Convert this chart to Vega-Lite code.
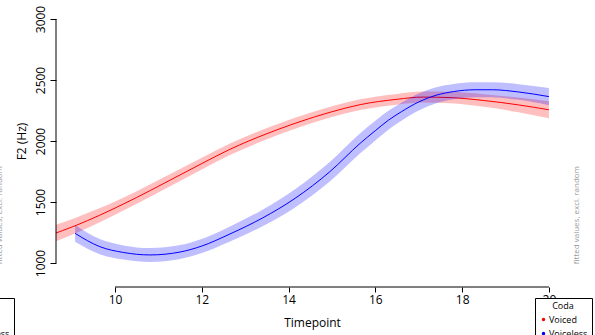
{
  "$schema": "https://vega.github.io/schema/vega-lite/v6.json",
  "width": 512,
  "height": 278,
  "autosize": {"type": "none"},
  "padding": {"left": 56, "top": 9, "right": 27, "bottom": 48},
  "background": "#ffffff",
  "config": {
    "font": "Open Sans",
    "view": {"stroke": null},
    "axis": {"grid": false, "domain": false, "tickColor": "#000000", "labelColor": "#000000", "titleColor": "#000000", "labelFontSize": 12, "titleFontSize": 12, "titleFontWeight": "normal", "tickWidth": 1, "labelFont": "Open Sans", "titleFont": "Open Sans"}
  },
  "data": {"values": [
    {"Coda": "Voiced", "t": 8.5, "fit": 1228, "lo": 1158, "hi": 1298},
    {"Coda": "Voiced", "t": 9.08, "fit": 1305, "lo": 1241, "hi": 1369},
    {"Coda": "Voiced", "t": 9.65, "fit": 1392, "lo": 1334, "hi": 1450},
    {"Coda": "Voiced", "t": 10.0, "fit": 1450, "lo": 1395, "hi": 1505},
    {"Coda": "Voiced", "t": 10.5, "fit": 1537, "lo": 1485, "hi": 1589},
    {"Coda": "Voiced", "t": 11.15, "fit": 1657, "lo": 1607, "hi": 1707},
    {"Coda": "Voiced", "t": 12.0, "fit": 1815, "lo": 1767, "hi": 1863},
    {"Coda": "Voiced", "t": 12.65, "fit": 1932, "lo": 1885, "hi": 1979},
    {"Coda": "Voiced", "t": 13.5, "fit": 2060, "lo": 2014, "hi": 2106},
    {"Coda": "Voiced", "t": 14.15, "fit": 2145, "lo": 2100, "hi": 2190},
    {"Coda": "Voiced", "t": 15.0, "fit": 2240, "lo": 2196, "hi": 2284},
    {"Coda": "Voiced", "t": 15.65, "fit": 2298, "lo": 2254, "hi": 2342},
    {"Coda": "Voiced", "t": 16.5, "fit": 2342, "lo": 2298, "hi": 2386},
    {"Coda": "Voiced", "t": 17.1, "fit": 2360, "lo": 2315, "hi": 2405},
    {"Coda": "Voiced", "t": 17.72, "fit": 2356, "lo": 2309, "hi": 2403},
    {"Coda": "Voiced", "t": 18.5, "fit": 2332, "lo": 2280, "hi": 2384},
    {"Coda": "Voiced", "t": 19.3, "fit": 2296, "lo": 2236, "hi": 2356},
    {"Coda": "Voiced", "t": 20.0, "fit": 2256, "lo": 2186, "hi": 2326},
    {"Coda": "Voiceless", "t": 9.08, "fit": 1243, "lo": 1175, "hi": 1311},
    {"Coda": "Voiceless", "t": 9.65, "fit": 1134, "lo": 1072, "hi": 1196},
    {"Coda": "Voiceless", "t": 10.2, "fit": 1086, "lo": 1028, "hi": 1144},
    {"Coda": "Voiceless", "t": 10.8, "fit": 1066, "lo": 1009, "hi": 1123},
    {"Coda": "Voiceless", "t": 11.5, "fit": 1090, "lo": 1033, "hi": 1147},
    {"Coda": "Voiceless", "t": 12.0, "fit": 1139, "lo": 1081, "hi": 1197},
    {"Coda": "Voiceless", "t": 12.65, "fit": 1238, "lo": 1176, "hi": 1300},
    {"Coda": "Voiceless", "t": 13.4, "fit": 1369, "lo": 1301, "hi": 1437},
    {"Coda": "Voiceless", "t": 14.15, "fit": 1530, "lo": 1455, "hi": 1605},
    {"Coda": "Voiceless", "t": 14.95, "fit": 1748, "lo": 1668, "hi": 1828},
    {"Coda": "Voiceless", "t": 15.65, "fit": 1981, "lo": 1899, "hi": 2063},
    {"Coda": "Voiceless", "t": 16.0, "fit": 2085, "lo": 2005, "hi": 2165},
    {"Coda": "Voiceless", "t": 16.3, "fit": 2170, "lo": 2093, "hi": 2247},
    {"Coda": "Voiceless", "t": 16.6, "fit": 2240, "lo": 2166, "hi": 2314},
    {"Coda": "Voiceless", "t": 17.0, "fit": 2320, "lo": 2250, "hi": 2390},
    {"Coda": "Voiceless", "t": 17.4, "fit": 2375, "lo": 2309, "hi": 2441},
    {"Coda": "Voiceless", "t": 17.8, "fit": 2405, "lo": 2342, "hi": 2468},
    {"Coda": "Voiceless", "t": 18.3, "fit": 2420, "lo": 2358, "hi": 2482},
    {"Coda": "Voiceless", "t": 18.7, "fit": 2420, "lo": 2358, "hi": 2482},
    {"Coda": "Voiceless", "t": 19.3, "fit": 2402, "lo": 2338, "hi": 2466},
    {"Coda": "Voiceless", "t": 20.0, "fit": 2364, "lo": 2294, "hi": 2434}
  ]},
  "layer": [
    {
      "transform": [{"filter": "datum.Coda === 'Voiced'"}],
      "mark": {"type": "area", "opacity": 0.25, "clip": true, "interpolate": "monotone"},
      "encoding": {
        "x": {"field": "t", "type": "quantitative", "scale": {"domain": [8.64, 20.44], "nice": false, "zero": false}, "title": "Timepoint",
              "axis": {"values": [10, 12, 14, 16, 18, 20], "format": "d", "tickSize": 5, "labelPadding": 2, "titleY": 35, "titleBaseline": "middle"}},
        "y": {"field": "lo", "type": "quantitative", "scale": {"domain": [803.3, 3082], "nice": false, "zero": false}, "title": "F2 (Hz)",
              "axis": {"values": [1000, 1500, 2000, 2500, 3000], "format": "d", "tickSize": 6, "labelAngle": 270, "labelAlign": "center", "labelBaseline": "bottom", "labelPadding": 3, "titleX": -35, "titleY": 132, "titleAngle": 270, "titleAlign": "center", "titleBaseline": "middle"}},
        "y2": {"field": "hi"},
        "fill": {"field": "Coda", "type": "nominal", "scale": {"domain": ["Voiceless", "Voiced"], "range": ["#0000ff", "#ff0000"]},
                 "legend": {"values": ["Voiced", "Voiceless"], "orient": "none", "legendX": -99, "legendY": 289, "title": "Coda", "titleAnchor": "middle", "titleFontSize": 9, "titleFontWeight": "normal", "titleColor": "#000000", "labelFontSize": 9, "labelColor": "#000000", "symbolType": "circle", "symbolSize": 12, "symbolStrokeWidth": 0, "strokeColor": "#000000", "fillColor": "#ffffff", "padding": 4, "rowPadding": 4, "titlePadding": 4, "labelOffset": 1,
                            "encode": {"symbols": {"update": {"fill": {"scale": "fill", "field": "value"}, "opacity": {"value": 1}}}}}}
      }
    },
    {
      "transform": [{"filter": "datum.Coda === 'Voiced'"}],
      "mark": {"type": "line", "strokeWidth": 1, "clip": true, "interpolate": "monotone"},
      "encoding": {
        "x": {"field": "t", "type": "quantitative", "scale": {"domain": [8.64, 20.44], "nice": false, "zero": false}, "title": "Timepoint"},
        "y": {"field": "fit", "type": "quantitative", "scale": {"domain": [803.3, 3082], "nice": false, "zero": false}, "title": "F2 (Hz)"},
        "stroke": {"field": "Coda", "type": "nominal", "scale": {"domain": ["Voiced", "Voiceless"], "range": ["#ff0000", "#0000ff"]},
                   "legend": {"orient": "none", "legendX": 479, "legendY": 289, "title": "Coda", "titleAnchor": "middle", "titleFontSize": 9, "titleFontWeight": "normal", "titleColor": "#000000", "labelFontSize": 9, "labelColor": "#000000", "symbolType": "circle", "symbolSize": 12, "symbolStrokeWidth": 0, "strokeColor": "#000000", "fillColor": "#ffffff", "padding": 4, "rowPadding": 4, "titlePadding": 4, "labelOffset": 1,
                              "encode": {"symbols": {"update": {"fill": {"scale": "stroke", "field": "value"}, "opacity": {"value": 1}}}}}}
      }
    },
    {
      "transform": [{"filter": "datum.Coda === 'Voiceless'"}],
      "mark": {"type": "area", "opacity": 0.25, "clip": true, "interpolate": "monotone"},
      "encoding": {
        "x": {"field": "t", "type": "quantitative", "scale": {"domain": [8.64, 20.44], "nice": false, "zero": false}, "title": "Timepoint"},
        "y": {"field": "lo", "type": "quantitative", "scale": {"domain": [803.3, 3082], "nice": false, "zero": false}, "title": "F2 (Hz)"},
        "y2": {"field": "hi"},
        "fill": {"field": "Coda", "type": "nominal", "scale": {"domain": ["Voiceless", "Voiced"], "range": ["#0000ff", "#ff0000"]}}
      }
    },
    {
      "transform": [{"filter": "datum.Coda === 'Voiceless'"}],
      "mark": {"type": "line", "strokeWidth": 1, "clip": true, "interpolate": "monotone"},
      "encoding": {
        "x": {"field": "t", "type": "quantitative", "scale": {"domain": [8.64, 20.44], "nice": false, "zero": false}, "title": "Timepoint"},
        "y": {"field": "fit", "type": "quantitative", "scale": {"domain": [803.3, 3082], "nice": false, "zero": false}, "title": "F2 (Hz)"},
        "stroke": {"field": "Coda", "type": "nominal", "scale": {"domain": ["Voiced", "Voiceless"], "range": ["#ff0000", "#0000ff"]}}
      }
    },
    {
      "data": {"values": [{}]},
      "mark": {"type": "rule", "color": "#000000", "strokeWidth": 1},
      "encoding": {
        "x": {"datum": 8.64, "type": "quantitative", "scale": {"domain": [8.64, 20.44], "nice": false, "zero": false}, "title": "Timepoint"},
        "y": {"datum": 1000, "type": "quantitative", "scale": {"domain": [803.3, 3082], "nice": false, "zero": false}, "title": "F2 (Hz)"},
        "y2": {"datum": 3000}
      }
    },
    {
      "data": {"values": [{}]},
      "mark": {"type": "rule", "color": "#000000", "strokeWidth": 1},
      "encoding": {
        "x": {"datum": 10, "type": "quantitative", "scale": {"domain": [8.64, 20.44], "nice": false, "zero": false}, "title": "Timepoint"},
        "x2": {"datum": 20},
        "y": {"datum": 803.3, "type": "quantitative", "scale": {"domain": [803.3, 3082], "nice": false, "zero": false}, "title": "F2 (Hz)"}
      }
    },
    {
      "data": {"values": [{"label": "fitted values, excl. random", "tx": 20.645, "ty": 1393}, {"label": "fitted values, excl. random", "tx": 7.35, "ty": 1393}]},
      "mark": {"type": "text", "angle": 270, "fontSize": 8, "color": "#999999", "align": "center", "baseline": "middle", "font": "Open Sans"},
      "encoding": {
        "x": {"field": "tx", "type": "quantitative", "scale": {"domain": [8.64, 20.44], "nice": false, "zero": false}, "title": "Timepoint"},
        "y": {"field": "ty", "type": "quantitative", "scale": {"domain": [803.3, 3082], "nice": false, "zero": false}, "title": "F2 (Hz)"},
        "text": {"field": "label", "type": "nominal"}
      }
    }
  ]
}
